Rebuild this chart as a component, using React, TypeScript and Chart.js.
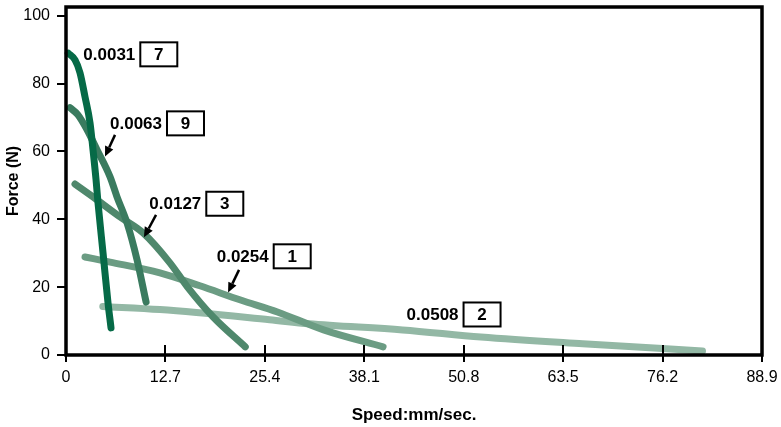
import React, { useEffect, useRef } from 'react';
import { Chart, registerables } from 'chart.js';

Chart.register(...registerables);

// ---- data ----
const xTicks = [0, 12.7, 25.4, 38.1, 50.8, 63.5, 76.2, 88.9];
const yTicks = [0, 20, 40, 60, 80, 100];

const seriesNames = ['0.0031', '0.0063', '0.0127', '0.0254', '0.0508'];
const seriesIds = ['7', '9', '3', '1', '2'];
const seriesColors = ['#066a47', '#3a7b5f', '#4f886c', '#6b9c83', '#93b8a5'];

const s7x = [0.29, 1.15, 1.79, 2.43, 3.07, 3.45, 3.84, 4.09, 4.73, 5.37, 5.75];
const s7y = [89.0, 87.0, 83.2, 76.1, 68.4, 60.5, 51.6, 44.8, 30.1, 15.3, 8.0];

const s9x = [0.51, 1.53, 2.69, 3.96, 5.63, 6.52, 7.8, 9.08, 10.23];
const s9y = [72.9, 70.8, 66.4, 60.5, 52.5, 46.6, 38.9, 28.0, 15.6];

const s3x = [1.15, 3.45, 6.91, 9.85, 13.3, 15.5, 18.8, 22.9];
const s3y = [50.4, 46.6, 40.7, 36.0, 27.1, 20.1, 11.2, 2.4];

const s1x = [2.43, 5.63, 12.0, 17.1, 22.3, 27.0, 32.9, 40.5];
const s1y = [28.9, 27.4, 24.2, 20.4, 16.2, 12.7, 7.4, 2.4];

const s2x = [4.7, 12.0, 26.0, 31.0, 43.0, 53.0, 66.0, 81.3];
const s2y = [14.3, 13.4, 10.4, 9.2, 7.4, 5.3, 3.3, 1.2];

const seriesX = [s7x, s9x, s3x, s1x, s2x];
const seriesY = [s7y, s9y, s3y, s1y, s2y];

// label anchors (data units): left edge and vertical middle of the text
const labelX = [2.21, 5.62, 10.64, 19.25, 43.5];
const labelY = [88.35, 68.0, 44.3, 28.8, 11.65];

// arrows (data units), null = none
const arrowFromX = [null, 6.26, 11.5, 22.1, null];
const arrowFromY = [null, 64.9, 41.3, 25.1, null];
const arrowToX = [null, 4.98, 9.96, 20.7, null];
const arrowToY = [null, 58.5, 34.7, 18.4, null];

const FONT = '"Liberation Sans", Arial, Helvetica, sans-serif';

const framePlugin = {
  id: 'frame',
  afterDatasetsDraw(chart: any) {
    const { ctx, chartArea: a, scales } = chart;
    const x = scales.x;
    const y = scales.y;
    ctx.save();
    ctx.strokeStyle = '#000';
    ctx.lineWidth = 2;
    ctx.beginPath();
    xTicks.forEach((v) => {
      const px = Math.round(x.getPixelForValue(v));
      ctx.moveTo(px, a.bottom - 10);
      ctx.lineTo(px, a.bottom + 7);
    });
    yTicks.forEach((v) => {
      const py = Math.round(y.getPixelForValue(v));
      ctx.moveTo(a.left - 9, py);
      ctx.lineTo(a.left, py);
    });
    ctx.stroke();
    ctx.lineWidth = 3.5;
    ctx.strokeRect(a.left, a.top, a.right - a.left, a.bottom - a.top);

    // annotations
    ctx.font = `bold 17px ${FONT}`;
    ctx.fillStyle = '#000';
    ctx.textBaseline = 'middle';
    for (let i = 0; i < seriesNames.length; i++) {
      const tx = x.getPixelForValue(labelX[i]);
      const ty = y.getPixelForValue(labelY[i]);
      ctx.textAlign = 'left';
      ctx.fillText(seriesNames[i], tx, ty);
      const w = ctx.measureText(seriesNames[i]).width;
      const bx = tx + w + 5;
      const bw = 37;
      const bh = 24;
      ctx.lineWidth = 2;
      ctx.strokeRect(bx, ty - bh / 2 - 1, bw, bh);
      ctx.textAlign = 'center';
      ctx.fillText(seriesIds[i], bx + bw / 2, ty);
      const fx = arrowFromX[i];
      if (fx !== null) {
        const x1 = x.getPixelForValue(fx);
        const y1 = y.getPixelForValue(arrowFromY[i] as number);
        const x2 = x.getPixelForValue(arrowToX[i] as number);
        const y2 = y.getPixelForValue(arrowToY[i] as number);
        const ang = Math.atan2(y2 - y1, x2 - x1);
        const hl = 10;
        const hw = 4.5;
        const bxp = x2 - hl * Math.cos(ang);
        const byp = y2 - hl * Math.sin(ang);
        ctx.beginPath();
        ctx.moveTo(x1, y1);
        ctx.lineTo(bxp, byp);
        ctx.lineWidth = 2.5;
        ctx.stroke();
        ctx.beginPath();
        ctx.moveTo(x2, y2);
        ctx.lineTo(bxp + hw * Math.sin(ang), byp - hw * Math.cos(ang));
        ctx.lineTo(bxp - hw * Math.sin(ang), byp + hw * Math.cos(ang));
        ctx.closePath();
        ctx.fill();
      }
    }
    ctx.restore();
  },
};

const zeroPad = (s: any) => {
  s.paddingTop = 0;
  s.paddingBottom = 0;
  s.paddingLeft = 0;
  s.paddingRight = 0;
};

export default function App() {
  const ref = useRef<HTMLCanvasElement | null>(null);
  useEffect(() => {
    if (!ref.current) return;
    Chart.defaults.font.family = FONT;
    Chart.defaults.color = '#000';
    const datasets = seriesNames.map((name, i) => ({
      label: name,
      data: seriesX[i].map((xv, j) => ({ x: xv, y: seriesY[i][j] })),
      borderColor: seriesColors[i],
      backgroundColor: seriesColors[i],
      borderWidth: 7,
      pointRadius: 0,
      tension: 0.4,
      cubicInterpolationMode: 'monotone' as const,
      borderCapStyle: 'round' as const,
      borderJoinStyle: 'round' as const,
      fill: false,
      clip: false as any,
    }));
    const chart = new Chart(ref.current, {
      type: 'line',
      data: { datasets },
      plugins: [framePlugin],
      options: {
        animation: false,
        responsive: false,
        devicePixelRatio: 1,
        layout: { padding: { left: 0, right: 19, top: 7, bottom: 0 } },
        plugins: { legend: { display: false }, tooltip: { enabled: false } },
        scales: {
          x: {
            type: 'linear',
            min: 0,
            max: 88.9,
            grid: { display: false, drawTicks: false },
            border: { display: false },
            afterBuildTicks: (s: any) => {
              s.ticks = xTicks.map((v) => ({ value: v }));
            },
            afterFit: (s: any) => {
              s.height = 72;
              zeroPad(s);
            },
            ticks: {
              autoSkip: false,
              maxRotation: 0,
              padding: 13,
              font: { size: 16 },
              color: '#000',
              callback: (v: any) => (Number(v) === 0 ? '0' : Number(v).toFixed(1)),
            },
            title: {
              display: true,
              text: 'Speed:mm/sec.',
              font: { size: 17, weight: 'bold' },
              color: '#000',
              padding: { top: 0, bottom: 1 },
            },
          },
          y: {
            type: 'linear',
            min: 0,
            max: 102.6,
            grid: { display: false, drawTicks: false },
            border: { display: false },
            afterBuildTicks: (s: any) => {
              s.ticks = yTicks.map((v) => ({ value: v }));
            },
            afterFit: (s: any) => {
              s.width = 66;
              zeroPad(s);
            },
            ticks: {
              autoSkip: false,
              padding: 16,
              font: { size: 16 },
              color: '#000',
              callback: (v: any) => String(v),
            },
            title: {
              display: true,
              text: 'Force (N)',
              font: { size: 16, weight: 'bold' },
              color: '#000',
              padding: { top: 4, bottom: 0 },
            },
          },
        },
      },
    });
    return () => chart.destroy();
  }, []);
  return (
    <div style={{ position: 'fixed', left: 0, top: 0, width: 781, height: 427, background: '#fff' }}>
      <canvas ref={ref} width={781} height={427} style={{ display: 'block' }} />
    </div>
  );
}
